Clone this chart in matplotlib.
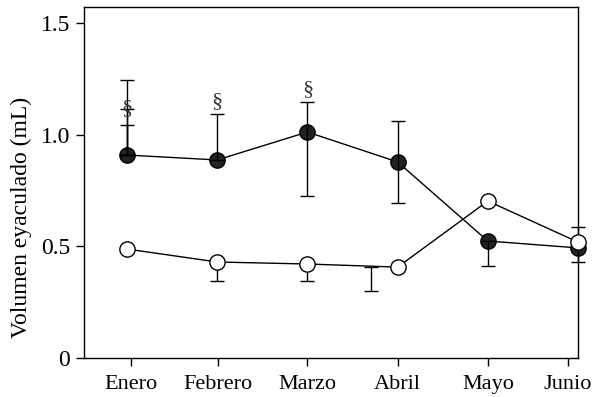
import numpy as np
import matplotlib
matplotlib.use("Agg")
import matplotlib.pyplot as plt

plt.rcParams['font.family'] = ['Liberation Serif', 'DejaVu Serif']

months = ["Enero", "Febrero", "Marzo", "Abril", "Mayo", "Junio"]
tick_pos = [0.04, 1.01, 2.0, 3.0, 4.0, 4.89]

# Filled series: mean, lower and upper error
filled = [0.909, 0.887, 1.012, 0.878, 0.524, 0.493]
filled_lo = [0.0, 0.0, 0.287, 0.184, 0.112, 0.063]
filled_hi = [0.336, 0.206, 0.134, 0.183, 0.0, 0.094]
# extra upper caps at Enero
enero_caps = [1.115, 1.043]

# Open series: mean, lower and upper error
open_ = [0.488, 0.43, 0.421, 0.407, 0.703, 0.519]
open_lo = [0.0, 0.085, 0.076, 0.0, 0.0, 0.0]
open_hi = [0.0, 0.0, 0.0, 0.0, 0.0, 0.0]
# Abril lower bar, drawn slightly left of the point
abril_bar_shift = -0.29
abril_lo = 0.107

# significance marks
sig_x = [0, 1, 2]
sig_y = [1.115, 1.15, 1.2]

x = np.arange(len(months))

fig = plt.figure(figsize=(5.99, 3.97), dpi=100)
ax = fig.add_axes([0.1402, 0.0982, 0.965 - 0.1402, 0.9824 - 0.0982])

ms = 11
cap = 5
fs = 16

# open series
ax.plot(x, open_, color='black', lw=1.0, zorder=2)
ax.errorbar(x, open_, yerr=[open_lo, open_hi], fmt='none', ecolor='black',
            elinewidth=1.0, capsize=cap, capthick=1.0, zorder=3)
ax.errorbar([3 + abril_bar_shift], [open_[3]], yerr=[[abril_lo], [0]],
            fmt='none', ecolor='black', elinewidth=1.0, capsize=cap,
            capthick=1.0, zorder=1)

# filled series
ax.plot(x, filled, color='black', lw=1.0, zorder=2)
ax.plot(x, filled, 'o', ms=ms, mfc='#222222', mec='black', mew=1.0,
        zorder=4, clip_on=False)
ax.errorbar(x, filled, yerr=[filled_lo, filled_hi], fmt='none',
            ecolor='black', elinewidth=1.0, capsize=cap, capthick=1.0,
            zorder=5, clip_on=False)
for c in enero_caps:
    ax.errorbar([0], [filled[0]], yerr=[[0], [c - filled[0]]], fmt='none',
                ecolor='black', elinewidth=1.0, capsize=cap, capthick=1.0,
                zorder=5)

# open markers on top
ax.plot(x, open_, 'o', ms=ms, mfc='white', mec='black', mew=1.0,
        zorder=6, clip_on=False)

for sx, sy in zip(sig_x, sig_y):
    ax.text(sx, sy, "§", ha='center', va='center', fontsize=fs, zorder=7,
            color='#333333')

ax.set_xlim(-0.477, 5.0)
ax.set_ylim(0, 1.572)
ax.set_xticks(tick_pos)
ax.set_xticklabels(months, fontsize=fs)
ax.set_yticks([0, 0.5, 1.0, 1.5])
ax.set_yticklabels(["0", "0.5", "1.0", "1.5"], fontsize=17)
ax.set_ylabel("Volumen eyaculado (mL)", fontsize=17, labelpad=4)
ax.yaxis.set_label_coords(-0.105, 0.40)
ax.tick_params(direction='out', length=6, width=1.0, pad=4)
ax.tick_params(axis='x', pad=6)
for s in ax.spines.values():
    s.set_linewidth(1.0)

fig.savefig("out.png", dpi=100)
